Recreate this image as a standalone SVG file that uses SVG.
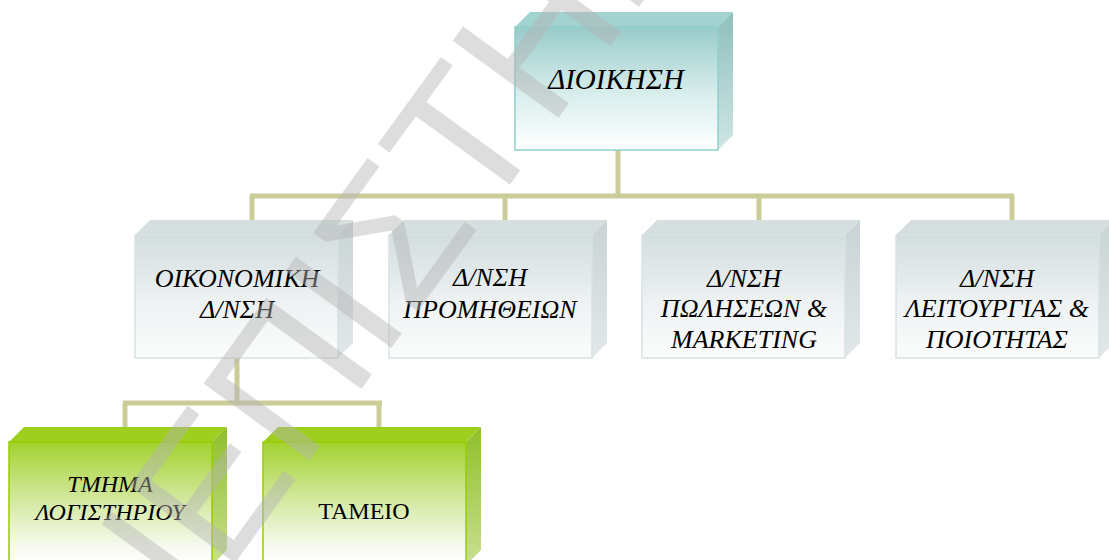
<svg xmlns="http://www.w3.org/2000/svg" width="1109" height="560" viewBox="0 0 1109 560">
  <style>
    .lbl { fill: #000; text-anchor: middle; }
    .conn { stroke: #cccc99; stroke-width: 5; fill: none; }
    .tealF { fill: url(#gTeal); stroke: #8fd0cc; stroke-width: 1.5; }
    .tealT { fill: #a3d3d1; }
    .tealS { fill: url(#gTealS); }
    .grayF { fill: url(#gGray); stroke: #d8e2e3; stroke-width: 1.5; }
    .grayT { fill: #d6dfe0; }
    .grayS { fill: url(#gGrayS); }
    .grnF { fill: url(#gGreen); stroke: #99cc00; stroke-width: 1.5; }
    .grnT { fill: #9fcf1e; }
    .grnS { fill: url(#gGreenS); }
    .wm { fill: #b4b4b4; opacity: 0.45; }
  </style>
  <defs>
    <linearGradient id="gTeal" x1="0" y1="0" x2="0" y2="1">
      <stop offset="0" stop-color="#98cbc9"/>
      <stop offset="0.55" stop-color="#d9eeed"/>
      <stop offset="1" stop-color="#ffffff"/>
    </linearGradient>
    <linearGradient id="gTealS" x1="0" y1="0" x2="0" y2="1">
      <stop offset="0" stop-color="#8ebfbc"/>
      <stop offset="1" stop-color="#cfe6e5"/>
    </linearGradient>
    <linearGradient id="gGray" x1="0" y1="0" x2="0" y2="1">
      <stop offset="0" stop-color="#d3dddf"/>
      <stop offset="0.55" stop-color="#eef2f3"/>
      <stop offset="1" stop-color="#fbfcfc"/>
    </linearGradient>
    <linearGradient id="gGrayS" x1="0" y1="0" x2="0" y2="1">
      <stop offset="0" stop-color="#c9d3d5"/>
      <stop offset="1" stop-color="#e2e8e9"/>
    </linearGradient>
    <linearGradient id="gGreen" x1="0" y1="0" x2="0" y2="1">
      <stop offset="0" stop-color="#a2d22e"/>
      <stop offset="0.5" stop-color="#d6eaa6"/>
      <stop offset="0.85" stop-color="#f6faee"/>
      <stop offset="1" stop-color="#ffffff"/>
    </linearGradient>
    <linearGradient id="gGreenS" x1="0" y1="0" x2="0" y2="1">
      <stop offset="0" stop-color="#8fbf2a"/>
      <stop offset="1" stop-color="#c9e08f"/>
    </linearGradient>
  </defs>

  <g id="connectors">
    <line class="conn" x1="618" y1="150" x2="618" y2="196"/>
    <line class="conn" x1="250" y1="196" x2="1014" y2="196"/>
    <line class="conn" x1="252" y1="196" x2="252" y2="222"/>
    <line class="conn" x1="505" y1="196" x2="505" y2="222"/>
    <line class="conn" x1="759" y1="196" x2="759" y2="222"/>
    <line class="conn" x1="1012" y1="196" x2="1012" y2="222"/>
    <line class="conn" x1="237" y1="358" x2="237" y2="403"/>
    <line class="conn" x1="123" y1="403" x2="382" y2="403"/>
    <line class="conn" x1="125" y1="403" x2="125" y2="428"/>
    <line class="conn" x1="379" y1="403" x2="379" y2="428"/>
  </g>

  <g id="node-dioikisi">
    <polygon class="tealT" points="515,27 530,12 733,12 718,27"/>
    <polygon class="tealS" points="718,27 733,12 733,135 718,150"/>
    <rect class="tealF" x="515" y="27" width="203" height="123"/>
    <text class="lbl" x="616" y="89" font-size="29" style="font-family:'Liberation Serif',serif;font-style:italic">ΔΙΟΙΚΗΣΗ</text>
  </g>

  <g id="node-oikonomiki">
    <polygon class="grayT" points="135,235 150,220 353,220 338,235"/>
    <polygon class="grayS" points="338,235 353,220 353,343 338,358"/>
    <rect class="grayF" x="135" y="235" width="203" height="123"/>
    <text class="lbl" x="237" y="287" font-size="26" style="font-family:'Liberation Serif',serif;font-style:italic">ΟΙΚΟΝΟΜΙΚΗ</text>
    <text class="lbl" x="237" y="318" font-size="26" style="font-family:'Liberation Serif',serif;font-style:italic">Δ/ΝΣΗ</text>
  </g>

  <g id="node-promitheion">
    <polygon class="grayT" points="389,235 404,220 607,220 592,235"/>
    <polygon class="grayS" points="592,235 607,220 607,343 592,358"/>
    <rect class="grayF" x="389" y="235" width="203" height="123"/>
    <text class="lbl" x="490" y="286" font-size="26" style="font-family:'Liberation Serif',serif;font-style:italic">Δ/ΝΣΗ</text>
    <text class="lbl" x="490" y="318" font-size="26" style="font-family:'Liberation Serif',serif;font-style:italic">ΠΡΟΜΗΘΕΙΩΝ</text>
  </g>

  <g id="node-poliseon">
    <polygon class="grayT" points="642,235 657,220 860,220 845,235"/>
    <polygon class="grayS" points="845,235 860,220 860,343 845,358"/>
    <rect class="grayF" x="642" y="235" width="203" height="123"/>
    <text class="lbl" x="744" y="287" font-size="26" style="font-family:'Liberation Serif',serif;font-style:italic">Δ/ΝΣΗ</text>
    <text class="lbl" x="744" y="317" font-size="26" style="font-family:'Liberation Serif',serif;font-style:italic">ΠΩΛΗΣΕΩΝ &amp;</text>
    <text class="lbl" x="744" y="348" font-size="26" style="font-family:'Liberation Serif',serif;font-style:italic">MARKETING</text>
  </g>

  <g id="node-leitourgias">
    <polygon class="grayT" points="896,235 911,220 1114,220 1099,235"/>
    <polygon class="grayS" points="1099,235 1114,220 1114,343 1099,358"/>
    <rect class="grayF" x="896" y="235" width="203" height="123"/>
    <text class="lbl" x="997" y="287" font-size="26" style="font-family:'Liberation Serif',serif;font-style:italic">Δ/ΝΣΗ</text>
    <text class="lbl" x="997" y="317" font-size="26" style="font-family:'Liberation Serif',serif;font-style:italic">ΛΕΙΤΟΥΡΓΙΑΣ &amp;</text>
    <text class="lbl" x="997" y="348" font-size="26" style="font-family:'Liberation Serif',serif;font-style:italic">ΠΟΙΟΤΗΤΑΣ</text>
  </g>

  <g id="node-logistiriou">
    <polygon class="grnT" points="9,442 24,427 227,427 212,442"/>
    <polygon class="grnS" points="212,442 227,427 227,550 212,565"/>
    <rect class="grnF" x="9" y="442" width="203" height="123"/>
    <text class="lbl" x="110" y="492" font-size="24" style="font-family:'Liberation Serif',serif;font-style:italic">ΤΜΗΜΑ</text>
    <text class="lbl" x="110" y="520" font-size="24" style="font-family:'Liberation Serif',serif;font-style:italic">ΛΟΓΙΣΤΗΡΙΟΥ</text>
  </g>

  <g id="node-tameio">
    <polygon class="grnT" points="263,442 278,427 481,427 466,442"/>
    <polygon class="grnS" points="466,442 481,427 481,550 466,565"/>
    <rect class="grnF" x="263" y="442" width="203" height="123"/>
    <text class="lbl" x="364" y="519" font-size="24" style="font-family:'Liberation Serif',serif;font-style:normal">ΤΑΜΕΙΟ</text>
  </g>

  <g id="watermark">
    <text class="wm" transform="translate(-10,900) rotate(-54)" x="0" y="0" font-size="190" style="font-family:'Liberation Sans',sans-serif">ΠΑΝΕΠΙΣΤΗΜΙΟ</text>
  </g>
</svg>
